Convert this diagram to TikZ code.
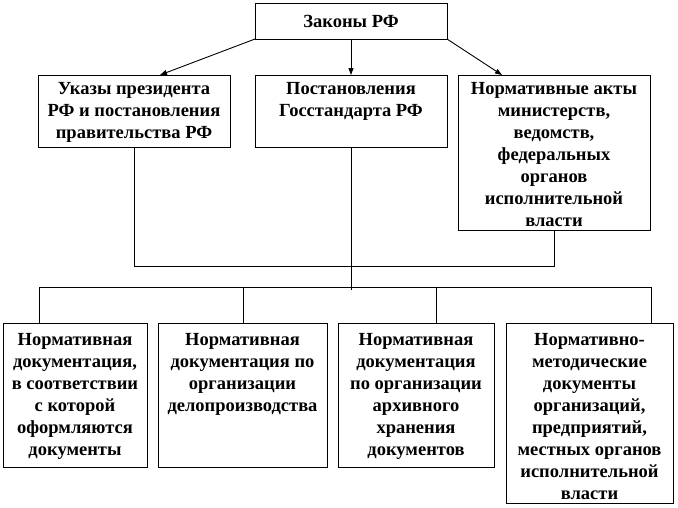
\documentclass[tikz,border=0pt]{standalone}
\usepackage{fontspec}
\setmainfont{Liberation Serif}
\usetikzlibrary{arrows.meta}
\newcommand{\bxtext}[4]{\parbox[c][#2][t]{#1}{\centering\rule{0pt}{#3}#4\par}}
\begin{document}
\begin{tikzpicture}[x=1pt,y=-1pt,
  every node/.style={font=\fontsize{18.5}{22}\selectfont\bfseries},
  docbox/.style={draw, line width=0.9pt, inner sep=0pt, outer sep=0pt, anchor=north west},
  conn/.style={line width=0.9pt},
  arr/.style={line width=0.9pt, -{Triangle[length=7pt,width=5pt]}}]
\useasboundingbox[fill=white] (0,0) rectangle (678,507);
% top level
\node[docbox] (top) at (255,3) {\bxtext{192pt}{36pt}{24pt}{Законы РФ}};
% second level
\node[docbox] (b2) at (38,75) {\bxtext{192pt}{72pt}{19pt}{Указы президента\\РФ и постановления\\правительства РФ}};
\node[docbox] (b3) at (255,75) {\bxtext{192pt}{72pt}{19pt}{Постановления\\Госстандарта РФ}};
\node[docbox] (b4) at (458,75) {\bxtext{192pt}{155pt}{19pt}{Нормативные акты\\министерств,\\ведомств,\\федеральных\\органов\\исполнительной\\власти}};
% bottom level
\node[docbox] (b5) at (3,323) {\bxtext{144pt}{144pt}{22pt}{Нормативная\\документация,\\в соответствии\\с которой\\оформляются\\документы}};
\node[docbox] (b6) at (158,323) {\bxtext{169pt}{144pt}{22pt}{Нормативная\\документация по\\организации\\делопроизводства}};
\node[docbox] (b7) at (338,323) {\bxtext{156pt}{144pt}{22pt}{Нормативная\\документация\\по организации\\архивного\\хранения\\документов}};
\node[docbox] (b8) at (506,323) {\bxtext{167pt}{180pt}{22pt}{Нормативно-\\методические\\документы\\организаций,\\предприятий,\\местных органов\\исполнительной\\власти}};
% arrows
\draw[arr] (top.south west) -- ([xshift=122pt]b2.north west);
\draw[arr] (top.south) -- (b3.north);
\draw[arr] (top.south east) -- ([xshift=44pt]b4.north west);
% collectors
\coordinate (hy) at (0,266);
\coordinate (stemend) at (0,290);
\draw[conn] (b2.south) -- (b2.south |- hy) -- (b4.south |- hy) -- (b4.south);
\draw[conn] (b3.south) -- (b3.south |- stemend);
\coordinate (busL) at (39,287);
\coordinate (busR) at (651,287);
\coordinate (d2) at (243,287);
\coordinate (d3) at (436,287);
\draw[conn] (busL) -- (busR);
\draw[conn] (busL) -- (busL |- b5.north);
\draw[conn] (d2) -- (d2 |- b6.north);
\draw[conn] (d3) -- (d3 |- b7.north);
\draw[conn] (busR) -- (busR |- b8.north);
\end{tikzpicture}
\end{document}
